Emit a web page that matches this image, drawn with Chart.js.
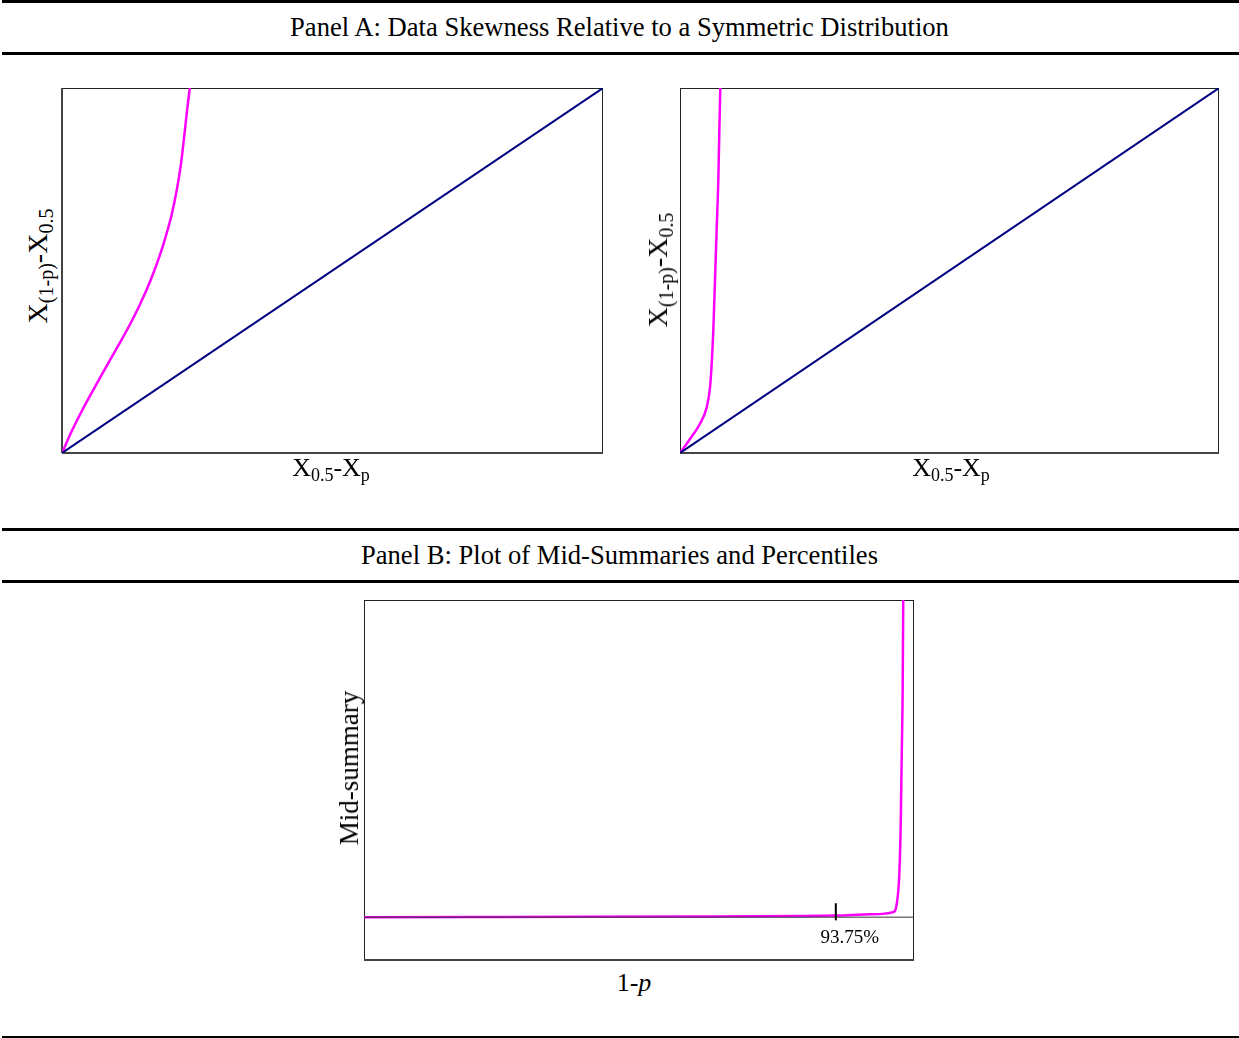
<!DOCTYPE html>
<html>
<head>
<meta charset="utf-8">
<script src="https://cdn.jsdelivr.net/npm/chart.js@4.4.1/dist/chart.umd.min.js"></script>
<style>
  html, body { margin: 0; padding: 0; background: #fff; }
  #page { position: relative; width: 1239px; height: 1038px; overflow: hidden;
          font-family: "Liberation Serif", "Times New Roman", serif; color: #000; }
  .rule { position: absolute; left: 2px; right: 0; background: #000; }
  .title { position: absolute; left: 0; width: 1239px; text-align: center;
           font-size: 26.6px; line-height: 26px; }
  .lbl { position: absolute; font-size: 26px; line-height: 26px; white-space: nowrap;
         transform: translate(-50%, -50%); }
  .lbl.rot { transform: translate(-50%, -50%) rotate(-90deg); font-size: 28px; }
  .lbl sub { font-size: 18px; vertical-align: -5px; line-height: 0; }
  .lbl.rot sub { font-size: 20px; vertical-align: -6px; }
  canvas { position: absolute; }
</style>
</head>
<body>
<div id="page">
  <div class="rule" style="top:0;height:3px"></div>
  <div class="title" style="top:14px">Panel A: Data Skewness Relative to a Symmetric Distribution</div>
  <div class="rule" style="top:52px;height:3px"></div>

  <canvas id="skew1" width="549" height="373" style="left:58px;top:84px"></canvas>
  <canvas id="skew2" width="547" height="373" style="left:676px;top:84px"></canvas>
  <div class="lbl rot" style="left:38px;top:266px">X<sub>(1-p)</sub>-X<sub>0.5</sub></div>
  <div class="lbl rot" style="left:658px;top:270px">X<sub>(1-p)</sub>-X<sub>0.5</sub></div>
  <div class="lbl" style="left:331px;top:468px">X<sub>0.5</sub>-X<sub>p</sub></div>
  <div class="lbl" style="left:951px;top:468px">X<sub>0.5</sub>-X<sub>p</sub></div>

  <div class="rule" style="top:528px;height:3px"></div>
  <div class="title" style="top:542px">Panel B: Plot of Mid-Summaries and Percentiles</div>
  <div class="rule" style="top:580px;height:3px"></div>

  <canvas id="mid" width="558" height="368" style="left:360px;top:596px"></canvas>
  <div class="lbl rot" style="left:349px;top:768px;font-size:27px">Mid-summary</div>
  <div class="lbl" style="left:634px;top:983px">1-<i>p</i></div>

  <div class="rule" style="top:1036px;height:2px"></div>
</div>

<script>
// Panel A, left: skewed quantile spread vs symmetric reference
const skewX1 = [0, 0.0179, 0.0364, 0.0548, 0.0738, 0.0913, 0.1089, 0.1275, 0.1445, 0.1634, 0.1795, 0.1913, 0.2030, 0.2120, 0.2200, 0.2258, 0.2312, 0.2362];
const skewY1 = [0, 0.0594, 0.1144, 0.165, 0.2153, 0.2613, 0.307, 0.3575, 0.408, 0.472, 0.536, 0.591, 0.655, 0.7195, 0.793, 0.866, 0.9395, 1.0];
// Panel A, right
const skewX2 = [0, 0.0186, 0.0371, 0.0495, 0.0557, 0.0588, 0.0618, 0.0649, 0.068, 0.0711, 0.073, 0.0748];
const skewY2 = [0, 0.0385, 0.080, 0.125, 0.180, 0.245, 0.336, 0.473, 0.611, 0.748, 0.885, 1.0];
// symmetric distribution: 45 degree line
const symX = [0, 1];
const symY = [0, 1];
// Panel B: mid-summary by 1-p (percent)
const midX = [50, 60, 70, 80, 90, 93.75, 97, 99.08, 99.4, 99.64, 99.77, 99.86, 99.95, 100];
const midY = [0, 0.05, 0.1, 0.2, 0.35, 0.5, 0.9, 1.6, 4.2, 13.7, 29.6, 50.6, 71.7, 100];
const markerX = 93.75;
const markerLabel = "93.75%";

const MAGENTA = "#ff00ff";
const NAVY = "#000080";

function pts(xs, ys) {
    return xs.map((x, i) => ({ x: x, y: ys[i] }));
}

// box round the plot area, bottom edge a bit heavier
const frame = {
    id: "frame",
    beforeDatasetsDraw(chart, args, opts) {
        const a = chart.chartArea;
        const ctx = chart.ctx;
        ctx.save();
        ctx.strokeStyle = "#222";
        ctx.lineWidth = 1;
        ctx.strokeRect(a.left + 0.5, a.top + 0.5, a.right - a.left - 1, a.bottom - a.top - 1);
        ctx.strokeStyle = "#444";
        ctx.lineWidth = 2;
        ctx.beginPath();
        ctx.moveTo(a.left, a.bottom);
        ctx.lineTo(a.right, a.bottom);
        if (opts.heavyLeft) {
            ctx.moveTo(a.left, a.top);
            ctx.lineTo(a.left, a.bottom);
        }
        ctx.stroke();
        ctx.restore();
    }
};

function lineSet(data, color, width) {
    return {
        data: data,
        showLine: true,
        borderColor: color,
        backgroundColor: color,
        borderWidth: width,
        pointRadius: 0,
        cubicInterpolationMode: "monotone",
        fill: false
    };
}

function baseOptions(xmin, xmax, ymin, ymax) {
    return {
        responsive: false,
        animation: false,
        devicePixelRatio: 1,
        layout: { padding: 4 },
        plugins: { legend: { display: false }, tooltip: { enabled: false } },
        scales: {
            x: { type: "linear", display: false, min: xmin, max: xmax },
            y: { type: "linear", display: false, min: ymin, max: ymax }
        }
    };
}

function skewChart(id, xs, ys, heavyLeft) {
    const opts = baseOptions(0, 1, 0, 1);
    opts.plugins.frame = { heavyLeft: heavyLeft };
    new Chart(document.getElementById(id), {
        type: "scatter",
        data: {
            datasets: [
                lineSet(pts(symX, symY), NAVY, 2),
                lineSet(pts(xs, ys), MAGENTA, 2.5)
            ]
        },
        options: opts,
        plugins: [frame]
    });
}

skewChart("skew1", skewX1, skewY1, true);
skewChart("skew2", skewX2, skewY2, false);

// tick mark and its label at the marked percentile
const marker = {
    id: "marker",
    afterDatasetsDraw(chart) {
        const ctx = chart.ctx;
        const sx = chart.scales.x, sy = chart.scales.y;
        const px = sx.getPixelForValue(markerX);
        ctx.save();
        ctx.strokeStyle = "#000";
        ctx.lineWidth = 2;
        ctx.beginPath();
        ctx.moveTo(px, sy.getPixelForValue(4.4));
        ctx.lineTo(px, sy.getPixelForValue(-1.0));
        ctx.stroke();
        ctx.fillStyle = "#000";
        ctx.font = '19px "Liberation Serif"';
        ctx.textAlign = "center";
        ctx.textBaseline = "alphabetic";
        ctx.fillText(markerLabel, px + 14, sy.getPixelForValue(0) + 26);
        ctx.restore();
    }
};

const midOpts = baseOptions(50, 101, -13.5, 100);
midOpts.plugins.frame = { heavyLeft: false };
new Chart(document.getElementById("mid"), {
    type: "scatter",
    data: {
        datasets: [
            // zero line across the plot
            Object.assign(lineSet(pts([50, 101], [0, 0]), "#333", 1), { cubicInterpolationMode: "default" }),
            lineSet(pts(midX, midY), MAGENTA, 2.5)
        ]
    },
    options: midOpts,
    plugins: [frame, marker]
});
</script>
</body>
</html>
